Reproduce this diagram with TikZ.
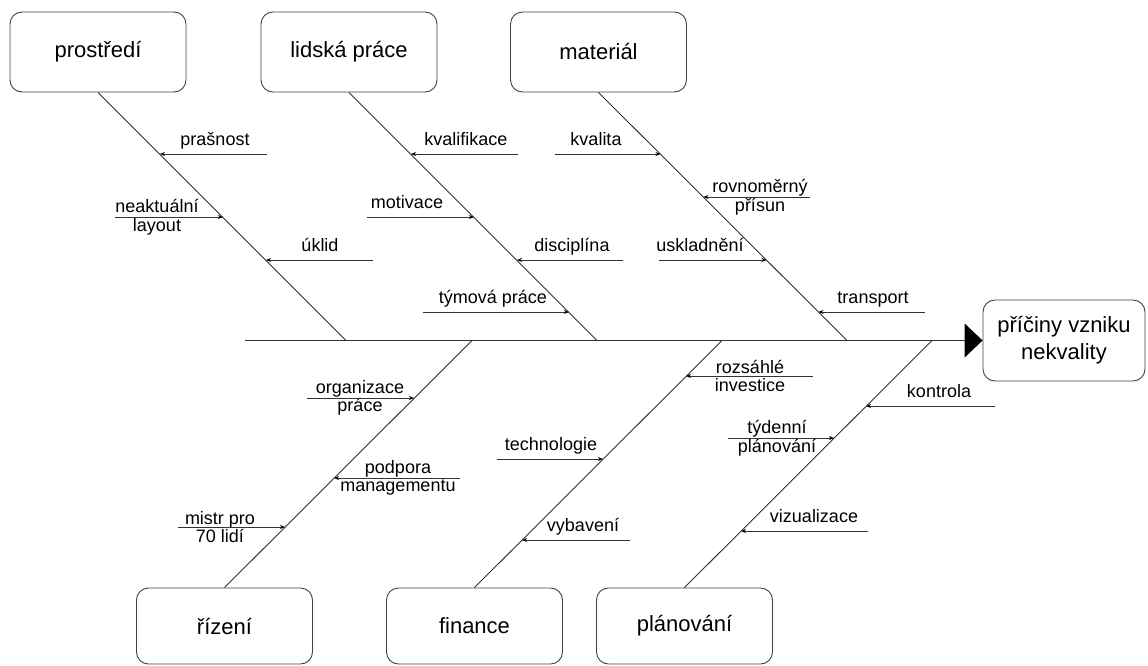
\documentclass[tikz,border=0pt]{standalone}
\usepackage{fontspec}
\setmainfont{Liberation Sans}
\usetikzlibrary{arrows.meta}

\begin{document}
\begin{tikzpicture}[
    x=1pt, y=-1pt,
    category/.style={rectangle, draw=black!75, line width=0.9pt, rounded corners=12pt, minimum width=176pt, minimum height=80pt, inner sep=0pt, align=center, font=\fontsize{22}{27}\selectfont},
    cause/.style={inner sep=0pt, align=center, font=\fontsize{18}{18.5}\selectfont},
    bone/.style={draw=black!80, line width=0.9pt},
    arrow/.style={-{Stealth[length=5pt, width=4pt, color=black]}, draw=black!80, line width=0.9pt},
    spine/.style={-{Triangle[length=18pt, width=34pt, color=black]}, draw=black!80, line width=0.9pt}
]
\useasboundingbox (0,0) rectangle (1148,665);

% kategorie
\node[category] (prostredi) at (98,52) {prostředí};
\node[category] (lidska) at (349,52) {lidská práce};
\node[category] (material) at (598.5,52) {materiál};
\node[category, minimum height=76pt] (rizeni) at (224.5,626) {řízení};
\node[category, minimum height=76pt] (finance) at (474.5,626) {finance};
\node[category, minimum height=76pt] (planovani) at (684.5,626) {plánování};

% následek
\node[category, minimum width=162pt, minimum height=81pt] (effect) at (1064,340.5) {příčiny vzniku\\nekvality};

% páteř
\coordinate (tail) at (245,340.5);
\coordinate (j-prostredi) at (346,340.5);
\coordinate (j-lidska) at (597,340.5);
\coordinate (j-material) at (847,340.5);
\coordinate (j-rizeni) at (472,340.5);
\coordinate (j-finance) at (722,340.5);
\coordinate (j-planovani) at (932,340.5);

% prostředí
\coordinate (prasnost-from) at (267,154);
\coordinate (prasnost-to) at (160,154);
\node[cause, anchor=base] (prasnost) at (215,145) {prašnost};
\coordinate (layout-from) at (115,217);
\coordinate (layout-to) at (223,217);
\node[cause] (layout) at (157,217) {neaktuální\\layout};
\coordinate (uklid-from) at (373,260);
\coordinate (uklid-to) at (266,260);
\node[cause, anchor=base] (uklid) at (320,251) {úklid};

% lidská práce
\coordinate (kvalifikace-from) at (518,154);
\coordinate (kvalifikace-to) at (411,154);
\node[cause, anchor=base] (kvalifikace) at (466,145) {kvalifikace};
\coordinate (motivace-from) at (367,217);
\coordinate (motivace-to) at (474,217);
\node[cause, anchor=base] (motivace) at (407,208) {motivace};
\coordinate (disciplina-from) at (623,260);
\coordinate (disciplina-to) at (517,260);
\node[cause, anchor=base] (disciplina) at (572,251) {disciplína};
\coordinate (tymova-from) at (423,312);
\coordinate (tymova-to) at (569,312);
\node[cause, anchor=base] (tymova) at (493,303) {týmová práce};

% materiál
\coordinate (kvalita-from) at (555,154);
\coordinate (kvalita-to) at (660.5,154);
\node[cause, anchor=base] (kvalita) at (596,145) {kvalita};
\coordinate (prisun-from) at (810,197);
\coordinate (prisun-to) at (703.5,197);
\node[cause] (prisun) at (760,197) {rovnoměrný\\přísun};
\coordinate (uskladneni-from) at (659,260);
\coordinate (uskladneni-to) at (766.5,260);
\node[cause, anchor=base] (uskladneni) at (700,251) {uskladnění};
\coordinate (transport-from) at (925,312);
\coordinate (transport-to) at (818.5,312);
\node[cause, anchor=base] (transport) at (873,303) {transport};

% řízení
\coordinate (organizace-from) at (307,398);
\coordinate (organizace-to) at (414,398);
\node[cause] (organizace) at (360,398) {organizace\\práce};
\coordinate (podpora-from) at (460,478);
\coordinate (podpora-to) at (334,478);
\node[cause] (podpora) at (398,478) {podpora\\managementu};
\coordinate (mistr-from) at (178,527);
\coordinate (mistr-to) at (285,527);
\node[cause] (mistr) at (220,527) {mistr pro\\70 lidí};

% finance
\coordinate (investice-from) at (813,376);
\coordinate (investice-to) at (686,376);
\node[cause] (investice) at (750,376) {rozsáhlé\\investice};
\coordinate (technologie-from) at (497,459);
\coordinate (technologie-to) at (603,459);
\node[cause, anchor=base] (technologie) at (551,450) {technologie};
\coordinate (vybaveni-from) at (630,540);
\coordinate (vybaveni-to) at (522,540);
\node[cause, anchor=base] (vybaveni) at (583,531) {vybavení};

% plánování
\coordinate (kontrola-from) at (995,406);
\coordinate (kontrola-to) at (866,406);
\node[cause, anchor=base] (kontrola) at (939,397) {kontrola};
\coordinate (tydenni-from) at (728,438);
\coordinate (tydenni-to) at (834,438);
\node[cause] (tydenni) at (777,438) {týdenní\\plánování};
\coordinate (vizualizace-from) at (868,531);
\coordinate (vizualizace-to) at (741,531);
\node[cause, anchor=base] (vizualizace) at (814,522) {vizualizace};

% páteř a kosti
\draw[spine] (tail) -- (effect.west);
\draw[bone] (prostredi.south) -- (j-prostredi);
\draw[bone] (lidska.south) -- (j-lidska);
\draw[bone] (material.south) -- (j-material);
\draw[bone] (rizeni.north) -- (j-rizeni);
\draw[bone] (finance.north) -- (j-finance);
\draw[bone] (planovani.north) -- (j-planovani);

% šipky příčin
\draw[arrow] (prasnost-from) -- (prasnost-to);
\draw[arrow] (layout-from) -- (layout-to);
\draw[arrow] (uklid-from) -- (uklid-to);
\draw[arrow] (kvalifikace-from) -- (kvalifikace-to);
\draw[arrow] (motivace-from) -- (motivace-to);
\draw[arrow] (disciplina-from) -- (disciplina-to);
\draw[arrow] (tymova-from) -- (tymova-to);
\draw[arrow] (kvalita-from) -- (kvalita-to);
\draw[arrow] (prisun-from) -- (prisun-to);
\draw[arrow] (uskladneni-from) -- (uskladneni-to);
\draw[arrow] (transport-from) -- (transport-to);
\draw[arrow] (organizace-from) -- (organizace-to);
\draw[arrow] (podpora-from) -- (podpora-to);
\draw[arrow] (mistr-from) -- (mistr-to);
\draw[arrow] (investice-from) -- (investice-to);
\draw[arrow] (technologie-from) -- (technologie-to);
\draw[arrow] (vybaveni-from) -- (vybaveni-to);
\draw[arrow] (kontrola-from) -- (kontrola-to);
\draw[arrow] (tydenni-from) -- (tydenni-to);
\draw[arrow] (vizualizace-from) -- (vizualizace-to);
\end{tikzpicture}
\end{document}
